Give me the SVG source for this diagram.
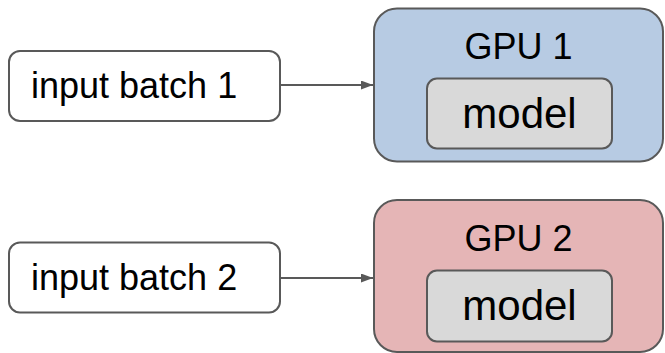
<svg xmlns="http://www.w3.org/2000/svg" width="665" height="353" viewBox="0 0 665 353">
  <defs>
    <marker id="arrow" viewBox="0 0 12 9" refX="12" refY="4.5" markerWidth="12" markerHeight="9" markerUnits="userSpaceOnUse" orient="auto">
      <path d="M0,0 L12,4.5 L0,9 Z" fill="#595959"/>
    </marker>
    <style>
      .box { stroke: #595959; stroke-width: 2; }
      .input { fill: #ffffff; }
      .gpu1 { fill: #b7cbe3; }
      .gpu2 { fill: #e5b5b6; }
      .model { fill: #d9d9d9; }
      .label { font-family: "Liberation Sans", Arial, sans-serif; fill: #000000; }
      .edge { stroke: #595959; stroke-width: 2; fill: none; }
    </style>
  </defs>

  <rect width="665" height="353" fill="#ffffff"/>

  <!-- connectors -->
  <g id="connectors">
    <line class="edge" x1="280" y1="85" x2="373" y2="85" marker-end="url(#arrow)"/>
    <line class="edge" x1="280" y1="278" x2="373" y2="278" marker-end="url(#arrow)"/>
  </g>

  <!-- first pair -->
  <g id="input-batch-1">
    <rect class="box input" x="9" y="51" width="271" height="70" rx="11"/>
    <text class="label" x="31" y="98" font-size="36">input batch 1</text>
  </g>
  <g id="gpu-1">
    <rect class="box gpu1" x="374" y="8.5" width="289" height="153" rx="23"/>
    <text class="label" x="518.5" y="59" font-size="36" text-anchor="middle">GPU 1</text>
    <g id="model-1">
      <rect class="box model" x="427" y="78.5" width="185" height="70" rx="10"/>
      <text class="label" x="519.5" y="128" font-size="42" text-anchor="middle">model</text>
    </g>
  </g>

  <!-- second pair -->
  <g id="input-batch-2">
    <rect class="box input" x="9" y="242.5" width="271" height="70" rx="11"/>
    <text class="label" x="31" y="290" font-size="36">input batch 2</text>
  </g>
  <g id="gpu-2">
    <rect class="box gpu2" x="374" y="200" width="289" height="152" rx="23"/>
    <text class="label" x="518.5" y="251" font-size="36" text-anchor="middle">GPU 2</text>
    <g id="model-2">
      <rect class="box model" x="427" y="270.5" width="185" height="71" rx="10"/>
      <text class="label" x="519.5" y="320" font-size="42" text-anchor="middle">model</text>
    </g>
  </g>
</svg>
